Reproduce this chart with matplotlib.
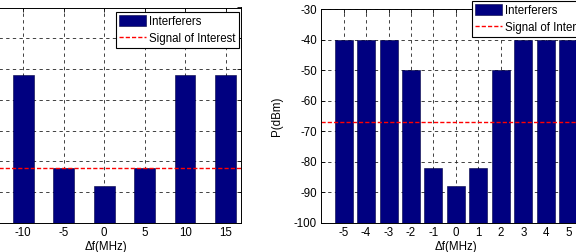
import matplotlib
matplotlib.use("Agg")
import matplotlib.pyplot as plt

# values (dBm)
left_freq = [-10, -5, 0, 5, 10, 15]
left_power = [-52, -82, -88, -82, -52, -52]
left_soi = -82

right_freq = [-5, -4, -3, -2, -1, 0, 1, 2, 3, 4, 5]
right_power = [-40, -40, -40, -50, -82, -88, -82, -50, -40, -40, -40]
right_soi = -67

yticks = [-100, -90, -80, -70, -60, -50, -40, -30]
base = -100

plt.rcParams['font.family'] = ['Liberation Sans', 'DejaVu Sans']
plt.rcParams['font.size'] = 8
plt.rcParams['axes.unicode_minus'] = False

W, H = 576.0, 252.0
fig = plt.figure(figsize=(W / 100, H / 100), dpi=100)

bar_color = '#000080'
grid_kw = dict(color='#222222', linestyle=(0, (4, 4)), linewidth=0.6)


def style_axes(ax):
    ax.set_yticks(yticks)
    ax.set_ylim(-100, -30)
    ax.tick_params(direction='in', length=3, width=0.6, top=True, right=True,
                   pad=3, labelsize=8.3)
    for s in ax.spines.values():
        s.set_linewidth(0.7)
    ax.grid(True, **grid_kw)
    ax.set_axisbelow(True)
    ax.set_xlabel('Δf(MHz)', fontsize=8.3, labelpad=1)


def draw(ax, freq, power, soi, width):
    bars = ax.bar(freq, [p - base for p in power], width=width, bottom=base,
                  color=bar_color, edgecolor='#000040', linewidth=0.4)
    line = ax.axhline(soi, color='red', linestyle=(0, (3, 1.5)), linewidth=1.0)
    return bars, line


def add_legend(ax, handles, x, y, loc):
    leg = ax.legend(handles, ['Interferers', 'Signal of Interest'],
                    loc=loc, bbox_to_anchor=(x / W, 1 - y / H),
                    bbox_transform=fig.transFigure, fancybox=False,
                    framealpha=1, edgecolor='black', fontsize=8.3,
                    handlelength=2.3, handleheight=1.0, handletextpad=0.3,
                    borderpad=0.3, labelspacing=0.45, borderaxespad=0)
    leg.get_frame().set_linewidth(0.8)
    leg.set_zorder(10)


# left panel (partly outside the picture on the left)
ax1 = fig.add_axes([-29 / W, (H - 223) / H, 270 / W, 215.5 / H])
b1, l1 = draw(ax1, left_freq, left_power, left_soi, 2.55)
ax1.set_xlim(-16.46, 16.9)
style_axes(ax1)
ax1.set_xticks(left_freq)
ax1.tick_params(axis='y', labelleft=False)
add_legend(ax1, [b1, l1], 239, 12, 'upper right')

# right panel (partly outside the picture on the right)
ax2 = fig.add_axes([321 / W, (H - 223) / H, 270 / W, 214 / H])
b2, l2 = draw(ax2, right_freq, right_power, right_soi, 0.8)
ax2.set_xlim(-6, 6)
style_axes(ax2)
ax2.set_xticks(right_freq)
ax2.set_ylabel('P(dBm)', fontsize=8.3, labelpad=8)
add_legend(ax2, [b2, l2], 472, 1, 'upper left')

plt.savefig('out.png', dpi=100)
